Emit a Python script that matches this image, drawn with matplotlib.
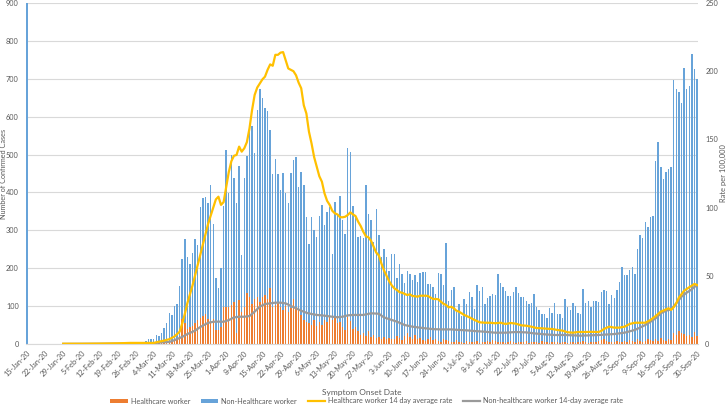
import matplotlib
matplotlib.use("Agg")
import matplotlib.pyplot as plt
from matplotlib.patches import Patch
from matplotlib.lines import Line2D
import pandas as pd
import numpy as np

start_date = "2020-01-15"
n_days = 260

healthcare = [
    0, 0, 0, 0, 0, 0, 0, 0, 0, 0, 0, 0, 0, 0, 0, 0, 0, 0, 0, 0,
    0, 0, 0, 0, 0, 0, 0, 0, 0, 0, 0, 0, 0, 0, 0, 0, 0, 0, 0, 0,
    0, 0, 0, 0, 0, 0,
    1, 1, 2, 2, 3, 3, 4, 5, 6,
    8, 7, 10, 12, 20,
    65, 55, 40, 44, 48, 55, 63, 69, 75, 80, 67, 61, 67, 38, 36, 44, 98, 97, 98, 103,
    111, 30, 115, 85, 98, 135, 124, 105, 119, 124, 111, 124, 129, 119, 149, 98, 103, 111, 98, 89,
    101, 85, 94, 119, 98, 89, 76, 63, 59, 55, 50, 63, 48, 57, 50, 63, 59, 72, 63, 69,
    55, 59, 46, 36, 72,
    60, 40, 45, 35, 25, 28, 20, 35, 18, 25, 15, 18, 12, 18, 12, 15, 14, 12, 20, 16,
    10, 22, 30, 18, 12, 25, 12, 15, 10, 8, 12, 18, 10, 14, 8, 6, 12, 10,
    8, 6, 5, 10, 4, 6, 3, 8, 5, 4, 6, 7, 3, 5, 4, 8, 6, 10, 7, 5,
    4, 6, 3, 5, 7, 4, 3, 6, 5, 4, 8, 3, 5, 4, 6, 3, 7, 4, 5, 3,
    6, 4, 5, 3, 6,
    4, 3, 5, 6, 3, 4, 5, 8, 4, 3, 6, 5, 4, 7, 10, 12, 8, 5, 4, 6,
    9, 5, 6, 8, 5, 10, 7, 6, 12, 9, 5, 8, 14, 10, 7, 12, 9, 15, 11, 8,
    13, 10, 30, 25, 35, 28, 26, 22, 25, 18, 32, 22,
]

non_healthcare = [
    950, 0, 0, 0, 0, 0, 0, 0, 0, 0, 0, 0, 0, 0, 0, 0, 0, 0, 0, 0,
    0, 0, 0, 0, 0, 0, 0, 0, 0, 0, 0, 0, 0, 0, 0, 2, 0, 3, 2, 1,
    3, 2, 4, 3, 2, 5,
    8, 11, 10, 12, 22, 18, 26, 36, 49,
    75, 69, 90, 93, 133,
    159, 221, 189, 167, 193, 223, 198, 292, 310, 309, 306, 359, 251, 136, 111, 156, 267, 415, 301, 396,
    326, 343, 355, 150, 339, 361, 451, 470, 384, 493, 561, 524, 493, 497, 416, 352, 384, 339, 308, 363,
    298, 288, 358, 366, 396, 326, 379, 357, 277, 209, 284, 238, 235, 281, 318, 251, 289, 289, 174, 306,
    288, 331, 281, 254, 444,
    446, 324, 289, 248, 260, 251, 400, 308, 309, 245, 342, 270, 218, 232, 218, 178, 223, 225, 153, 195,
    175, 140, 163, 167, 157, 158, 152, 173, 181, 183, 147, 141, 140, 118, 180, 179, 145, 257,
    106, 136, 145, 75, 101, 68, 117, 97, 132, 121, 87, 148, 138, 145, 101, 113, 122, 122, 123, 180,
    156, 145, 138, 122, 120, 134, 147, 128, 120, 121, 106, 102, 103, 127, 92, 87, 71, 74, 63, 91,
    77, 103, 74, 76, 62,
    114, 95, 86, 103, 97, 77, 74, 136, 103, 111, 92, 109, 110, 104, 128, 130, 132, 101, 125, 116,
    133, 159, 198, 173, 176, 185, 197, 180, 240, 279, 274, 315, 294, 326, 331, 471, 524, 453, 424, 445,
    449, 458, 667, 647, 630, 609, 702, 650, 657, 747, 693, 677,
]

# 14-day average rates: (day index from 15-Jan-20, rate per 100,000)
hcw_rate_day = [14, 21, 28, 35, 40, 45, 49, 51, 53, 55, 57, 59, 60, 61, 62, 64, 66, 68, 70, 72,
                73, 74, 75, 76, 77, 78, 79, 80, 81, 82, 83, 84, 85, 86, 87, 88, 89, 90, 91, 92,
                93, 94, 95, 96, 97, 98, 99, 100, 101, 102, 103, 104, 105, 106, 107, 108, 109, 110, 111, 112,
                113, 114, 115, 116, 117, 118, 119, 120, 121, 122, 123, 124, 125, 126, 127, 128, 129, 130, 131, 132,
                133, 134, 135, 136, 137, 138, 139, 140, 141, 142, 143, 144, 145, 146, 147, 148, 149, 150, 151, 152,
                153, 154, 155, 156, 157, 158, 159, 160, 161, 162, 163, 164, 165, 166, 167, 169, 171, 173, 175, 177,
                179, 181, 183, 185, 187, 189, 191, 193, 195, 197, 199, 201, 203, 205, 207, 209, 211, 213, 216, 218,
                221, 222, 223, 225, 227, 229, 231, 233, 235, 237, 239, 241, 243, 245, 247, 248, 249, 250, 251, 252,
                253, 254, 256, 258, 259]
hcw_rate_val = [0.2, 0.2, 0.3, 0.5, 0.8, 0.8, 0.8, 1.7, 2.5, 3.5, 5.5, 9, 15, 22, 30, 43, 58, 73, 88, 100,
                106, 108, 102, 104, 115, 126, 134, 138, 138.6, 144.7, 141, 143.5, 148, 158, 171.5, 182.6, 188, 191, 194, 196,
                201, 205, 204, 212, 212, 213.6, 214, 208, 202, 201, 200, 197, 191.6, 187.5, 175, 169, 155.6, 147, 137, 130,
                123, 119, 110.5, 105, 102, 97.7, 95.8, 95, 93, 92.9, 93.3, 94.6, 96.5, 95, 93.8, 89.7, 86.5, 82.3, 79, 78.2,
                75.7, 71.3, 67, 65, 59, 54, 50, 46, 43, 40.8, 39.6, 38, 37.6, 36.7, 35.9, 36.4, 35.2, 35, 34.7, 35.4,
                35.4, 35.4, 35.2, 34, 33, 33, 32.8, 31, 29.5, 28.6, 26.9, 27.3, 26.2, 24.4, 23.7, 21.3, 19.6, 17.6, 15.9, 15.6,
                15.6, 15.2, 15.6, 14.7, 15.4, 14.9, 13.7, 13.4, 12.7, 11.7, 11.5, 11.2, 11, 10.3, 9.8, 8.6, 8.3, 8.8, 8.8, 8.9,
                8.8, 9.6, 11, 12.7, 12, 12, 12.7, 14.7, 15.6, 15.6, 15.6, 17.6, 20.5, 23.7, 25.4, 26.2, 25, 27, 30, 34,
                36.5, 39, 41.6, 44, 43.3]

nonhcw_rate_day = [14, 28, 42, 49, 52, 55, 57, 60, 62, 65, 67, 70, 72, 74, 76, 78, 80, 82, 84, 86,
                   88, 90, 92, 94, 96, 98, 100, 102, 104, 106, 108, 110, 112, 114, 116, 118, 120, 122, 124, 126,
                   128, 130, 133, 136, 138, 141, 143, 146, 149, 151, 154, 157, 160, 164, 167, 170, 173, 177, 181, 185,
                   189, 193, 196, 200, 204, 208, 214, 221, 227, 231, 235, 239, 241, 243, 245, 247, 249, 251, 253, 255,
                   257, 258, 259]
nonhcw_rate_val = [0.1, 0.2, 0.4, 0.6, 1.2, 1.5, 2.8, 5.2, 7.3, 9.8, 12.5, 15.5, 16.3, 16.4, 16.3, 17.5, 19.5, 20, 20, 20.5,
                   23.7, 27.4, 29.3, 29.8, 30.3, 30.3, 29.8, 27.9, 26.2, 24.4, 22.9, 22, 21.3, 21, 20.5, 20, 19.6, 20, 21, 21.3,
                   21.3, 21.3, 22.5, 22.2, 19.5, 17.6, 16.4, 13.9, 12.7, 12.2, 11.5, 10.9, 10.7, 10.7, 10.3, 10, 9.5, 9, 8.3, 8.3,
                   8.8, 8.5, 7.8, 7.1, 6.6, 6.6, 6.1, 6.6, 7.3, 8.3, 10.3, 13.9, 16.3, 18.8, 22.5, 24.4, 25.4, 29.8, 34.7, 37.6,
                   40.1, 42, 42.5]

tick_every = 7

# ---------------------------------------------------------------
plt.rcParams["font.family"] = ["Lato", "DejaVu Sans"]

dates = pd.date_range(start_date, periods=n_days, freq="D")
x = np.arange(n_days)
tick_pos = x[::tick_every]
tick_labels = [f"{d.day}-{d.strftime('%b-%y')}" for d in dates[::tick_every]]

TXT = "#595959"
BLUE = "#67A3D9"
ORANGE = "#ED7D31"
GOLD = "#FFC000"
GREY = "#9A9A9A"

fig = plt.figure(figsize=(7.28, 4.08), dpi=100)
ax = fig.add_axes([25.7 / 728, 64 / 408, 672.6 / 728, 341 / 408])

ax.bar(x, healthcare, width=0.55, color=ORANGE, zorder=2)
ax.bar(x, non_healthcare, width=0.55, bottom=healthcare, color=BLUE, zorder=2)

ax.set_xlim(-0.5, n_days - 0.5)
ax.set_ylim(0, 900)
ax.set_yticks(range(0, 901, 100))
ax.yaxis.grid(True, color="#D9D9D9", linewidth=0.8, zorder=0)
ax.set_axisbelow(True)
for s in ["top", "right", "left"]:
    ax.spines[s].set_visible(False)
ax.spines["bottom"].set_color("#D9D9D9")
ax.set_xticks(tick_pos)
ax.set_xticklabels(tick_labels, rotation=45, ha="right", rotation_mode="anchor")
ax.tick_params(axis="both", length=0, labelsize=5.3, colors=TXT)
ax.tick_params(axis="x", pad=4)
ax.tick_params(axis="y", pad=5)
ax.set_ylabel("Number of Confirmed Cases", fontsize=5.2, color=TXT)
ax.yaxis.set_label_coords((3.5 - 25.7) / 672.6, 0.5)
ax.yaxis.label.set_va("center")
ax.set_xlabel("Symptom Onset Date", fontsize=6, color=TXT)
ax.xaxis.set_label_coords(0.5, (344 - 392) / 341)
ax.xaxis.label.set_va("center")

ax2 = ax.twinx()
ax2.plot(hcw_rate_day, hcw_rate_val, color=GOLD, linewidth=1.6, zorder=4)
ax2.plot(nonhcw_rate_day, nonhcw_rate_val, color=GREY, linewidth=1.6, zorder=3)
ax2.set_ylim(0, 250)
ax2.set_yticks(range(0, 251, 50))
for s in ["top", "right", "left", "bottom"]:
    ax2.spines[s].set_visible(False)
ax2.tick_params(axis="y", length=0, labelsize=5.3, colors=TXT, pad=5)
ax2.set_ylabel("Rate per 100,000", fontsize=5.4, color=TXT)
ax2.yaxis.set_label_coords((723.5 - 25.7) / 672.6, 0.5)
ax2.yaxis.label.set_va("center")

handles = [
    Patch(facecolor=ORANGE, edgecolor="none"),
    Patch(facecolor=BLUE, edgecolor="none"),
    Line2D([0], [0], color=GOLD, linewidth=1.6),
    Line2D([0], [0], color=GREY, linewidth=1.6),
]
labels = ["Healthcare worker", "Non-Healthcare worker",
          "Healthcare worker 14 day average rate", "Non-healthcare worker 14-day average rate"]
leg = fig.legend(handles, labels, loc="center", bbox_to_anchor=(0.504, 1 - 401 / 408), ncol=4,
                 frameon=False, fontsize=5.2, handlelength=2.4, handleheight=0.55,
                 columnspacing=1.5, handletextpad=0.4)
for t in leg.get_texts():
    t.set_color(TXT)

fig.savefig("out.png", dpi=100)
